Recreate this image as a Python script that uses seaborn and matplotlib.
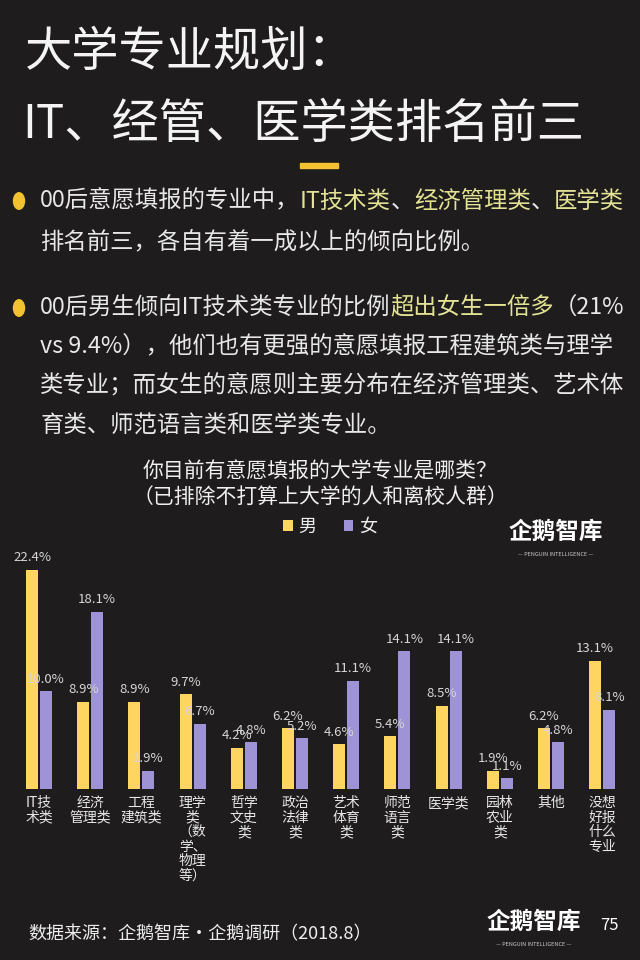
import matplotlib
matplotlib.use("Agg")
import matplotlib.pyplot as plt
import pandas as pd
import seaborn as sns

# data
categories = ["IT技\n术类", "经济\n管理类", "工程\n建筑类", "理学\n类\n（数\n学、\n物理\n等）",
              "哲学\n文史\n类", "政治\n法律\n类", "艺术\n体育\n类", "师范\n语言\n类",
              "医学类", "园林\n农业\n类", "其他", "没想\n好报\n什么\n专业"]
male = [22.4, 8.9, 8.9, 9.7, 4.2, 6.2, 4.6, 5.4, 8.5, 1.9, 6.2, 13.1]
female = [10.0, 18.1, 1.9, 6.7, 4.8, 5.2, 11.1, 14.1, 14.1, 1.1, 4.8, 8.1]
genders = ["男", "女"]

BG = "#1e1c1d"
YEL = "#FFD561"
PUR = "#9D93D6"
TXT = "#e8e8e8"
HL = "#E4E394"
W, H = 640, 960

df = pd.DataFrame({
    "cat": categories * 2,
    "gender": [genders[0]] * len(male) + [genders[1]] * len(female),
    "pct": male + female,
})

sns.set_theme(style="dark")
plt.rcParams["font.family"] = ["Noto Sans CJK SC", "DejaVu Sans"]

fig = plt.figure(figsize=(6.4, 9.6), dpi=100, facecolor=BG)
ax = fig.add_axes([0.021, 0.178, 0.96, 0.2385])
ax.set_facecolor(BG)

sns.barplot(data=df, x="cat", y="pct", hue="gender", palette={"男": YEL, "女": PUR},
            width=0.55, gap=0.15, saturation=1, linewidth=0, ax=ax)

for c in ax.containers:
    ax.bar_label(c, labels=[f"{v:.1f}%" for v in c.datavalues], padding=4,
                 color="#d6d6d6", fontsize=9.5)

ax.set_xlim(-0.5, 11.5)
ax.set_ylim(0, 23.4)
ax.set_yticks([])
ax.set_xlabel("")
ax.set_ylabel("")
ax.grid(False)
for s in ax.spines.values():
    s.set_visible(False)
ax.tick_params(axis="x", length=0, pad=5, labelsize=10, labelcolor=TXT)
for lab in ax.get_xticklabels():
    lab.set_linespacing(1.05)

handles, labels = ax.get_legend_handles_labels()
ax.get_legend().remove()
fig.legend(handles, labels, loc="center", bbox_to_anchor=(330 / W, 1 - 527 / H), ncol=2,
           frameon=False, fontsize=13, handlelength=0.55, handleheight=0.55,
           handletextpad=0.3, columnspacing=1.5, labelcolor="#eeeeee")

# titles
fig.text(25 / W, 1 - 53 / H, "大学专业规划：", color="#f4f4f4", fontsize=34, va="center")
fig.text(22 / W, 1 - 125 / H, "IT、经管、医学类排名前三", color="#f4f4f4", fontsize=34, va="center")
fig.add_artist(plt.Rectangle((300 / W, 1 - 168 / H), 38 / W, 5 / H, color="#F2C230",
                             transform=fig.transFigure))

renderer = fig.canvas.get_renderer()


def rich_line(y, parts, x=40, size=16.8):
    for s, col in parts:
        t = fig.text(x / W, 1 - y / H, s, color=col, fontsize=size, va="center", ha="left")
        x += t.get_window_extent(renderer).width


for yb in (201, 308):
    fig.add_artist(plt.Circle((19 / W, 1 - yb / H), 5.5 / W, color="#F2C230",
                              transform=fig.transFigure))

rich_line(201, [("00后意愿填报的专业中，", TXT), ("IT技术类", HL), ("、", TXT),
                ("经济管理类", HL), ("、", TXT), ("医学类", HL)])
rich_line(242, [("排名前三，各自有着一成以上的倾向比例。", TXT)])
rich_line(308, [("00后男生倾向IT技术类专业的比例", TXT), ("超出女生一倍多", HL), ("（21%", TXT)])
rich_line(347, [("vs 9.4%），他们也有更强的意愿填报工程建筑类与理学", TXT)])
rich_line(385, [("类专业；而女生的意愿则主要分布在经济管理类、艺术体", TXT)])
rich_line(426, [("育类、师范语言类和医学类专业。", TXT)])

# chart title
fig.text(0.5, 1 - 472 / H, "你目前有意愿填报的大学专业是哪类？", color="#f0f0f0",
         fontsize=15, ha="center", va="center")
fig.text(0.5, 1 - 498 / H, "（已排除不打算上大学的人和离校人群）", color="#f0f0f0",
         fontsize=15, ha="center", va="center")

# logos
fig.text(556 / W, 1 - 532 / H, "企鹅智库", color="white", fontsize=17, fontweight="bold",
         ha="center", va="center")
fig.text(556 / W, 1 - 554 / H, "— PENGUIN INTELLIGENCE —", color="#cccccc", fontsize=4,
         ha="center", va="center")
fig.text(534 / W, 1 - 922 / H, "企鹅智库", color="white", fontsize=17, fontweight="bold",
         ha="center", va="center")
fig.text(534 / W, 1 - 944 / H, "— PENGUIN INTELLIGENCE —", color="#cccccc", fontsize=4,
         ha="center", va="center")
fig.text(609 / W, 1 - 925 / H, "75", color="white", fontsize=12, ha="center", va="center")

fig.text(28 / W, 1 - 934 / H, "数据来源：企鹅智库·企鹅调研（2018.8）", color="#eeeeee",
         fontsize=13, va="center")

fig.savefig("out.png", dpi=100, facecolor=BG)
